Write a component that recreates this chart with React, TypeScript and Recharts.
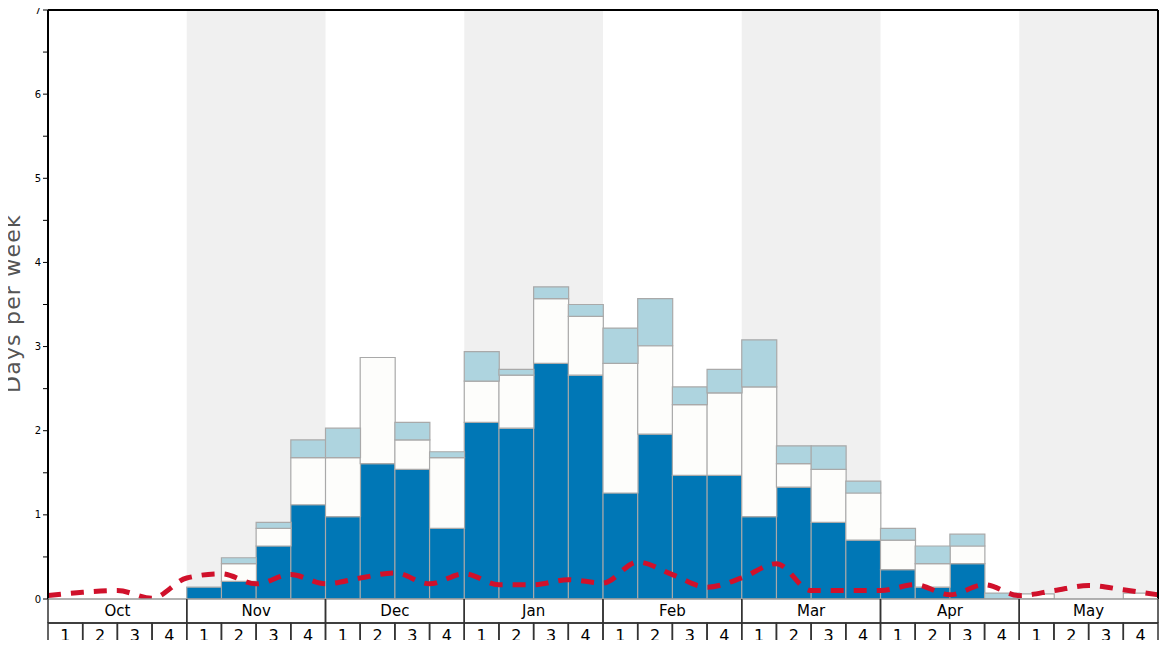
import React from 'react';
import { ComposedChart, Bar, Line, XAxis, YAxis, ReferenceArea } from 'recharts';

const months = ['Oct', 'Nov', 'Dec', 'Jan', 'Feb', 'Mar', 'Apr', 'May'];
const weekLabels = ['1', '2', '3', '4'];
const shadedMonths = ['Nov', 'Jan', 'Mar', 'May'];
const yTicks = [0, 0.5, 1, 1.5, 2, 2.5, 3, 3.5, 4, 4.5, 5, 5.5, 6, 6.5, 7];

const darkValues = [0, 0, 0, 0, 0.14, 0.21, 0.63, 1.12, 0.98, 1.61, 1.54, 0.84, 2.1, 2.03, 2.8, 2.66, 1.26, 1.96, 1.47, 1.47, 0.98, 1.33, 0.91, 0.7, 0.35, 0.14, 0.42, 0, 0, 0, 0, 0];
const whiteValues = [0, 0, 0, 0, 0, 0.21, 0.21, 0.56, 0.7, 1.26, 0.35, 0.84, 0.49, 0.63, 0.77, 0.7, 1.54, 1.05, 0.84, 0.98, 1.54, 0.28, 0.63, 0.56, 0.35, 0.28, 0.21, 0, 0.06, 0, 0, 0.07];
const lightValues = [0, 0, 0, 0, 0, 0.07, 0.07, 0.21, 0.35, 0, 0.21, 0.07, 0.35, 0.07, 0.14, 0.14, 0.42, 0.56, 0.21, 0.28, 0.56, 0.21, 0.28, 0.14, 0.14, 0.21, 0.14, 0.07, 0, 0, 0, 0];
const lineValues = [0.04, 0.08, 0.1, 0.01, 0.25, 0.3, 0.18, 0.29, 0.18, 0.25, 0.31, 0.18, 0.3, 0.17, 0.17, 0.23, 0.19, 0.44, 0.29, 0.14, 0.25, 0.42, 0.1, 0.1, 0.1, 0.17, 0.05, 0.17, 0.04, 0.1, 0.16, 0.11, 0.05];

const rows = months.flatMap((m, mi) =>
  weekLabels.map((w, wi) => {
    const i = mi * 4 + wi;
    return { key: `${m}-${w}`, week: w, dark: darkValues[i], white: whiteValues[i], light: lightValues[i] };
  })
);
const lineData = lineValues.map((v, k) => ({ k, v }));
const monthCenters = months.map((_, i) => i * 4 + 2);

const MONTH_ROW = 24;
const WEEK_ROW = 24;
const FONT = 'DejaVu Sans, sans-serif';
const GRID = '#333';

const MonthTick = (props: any) => {
  const { x, y, payload, width } = props;
  const w = (typeof width === 'number' && width > 0 ? width : 1110) / months.length;
  const idx = monthCenters.indexOf(payload.value);
  const label = idx >= 0 ? months[idx] : '';
  const l = x - w / 2;
  const r = x + w / 2;
  return (
    <g>
      <line x1={l} y1={y} x2={r} y2={y} stroke="#999" strokeWidth={1.5} />
      <line x1={l} y1={y} x2={l} y2={y + MONTH_ROW} stroke={GRID} strokeWidth={1.5} />
      <line x1={r} y1={y} x2={r} y2={y + MONTH_ROW} stroke={GRID} strokeWidth={1.5} />
      <line x1={l} y1={y + MONTH_ROW} x2={r} y2={y + MONTH_ROW} stroke={GRID} strokeWidth={1.5} />
      <text x={x} y={y + 17} textAnchor="middle" fontSize={15} fontFamily={FONT} fill="#000">{label}</text>
    </g>
  );
};

const WeekTick = (props: any) => {
  const { x, y, payload, width } = props;
  const half = payload && typeof payload.offset === 'number' && payload.offset > 0
    ? payload.offset
    : (typeof width === 'number' && width > 0 ? width : 1110) / rows.length / 2;
  const row = rows[payload.index] || rows.find(r => r.key === payload.value);
  return (
    <g>
      <rect x={x - half} y={y} width={half * 2} height={WEEK_ROW} fill="none" stroke={GRID} strokeWidth={1.5} />
      <text x={x} y={y + 18} textAnchor="middle" fontSize={16} fontFamily={FONT} fill="#000">{row ? row.week : ''}</text>
    </g>
  );
};

const YLabel = (props: any) => {
  const vb = props.viewBox || {};
  const cx = (vb.x ?? 0) + 20;
  const cy = (vb.y ?? 0) + (vb.height ?? 0) / 2 - 1;
  return (
    <text x={cx} y={cy} transform={`rotate(-90 ${cx} ${cy})`} textAnchor="middle" fontSize={22} letterSpacing={1.2} fontFamily={FONT} fill="#555">
      Days per week
    </text>
  );
};

export default function App() {
  return (
    <div style={{ margin: -8, width: 1168, height: 648, background: '#fff' }}>
      <ComposedChart
        width={1168}
        height={648}
        data={rows}
        margin={{ top: 9, right: 9, left: 0, bottom: 1 }}
        barCategoryGap={0}
        barGap={0}
      >
        {shadedMonths.map(m => {
          const i = months.indexOf(m);
          return (
            <ReferenceArea key={m} xAxisId="m" yAxisId="left" x1={i * 4} x2={i * 4 + 4} y1={0} y2={7} fill="#f0f0f0" fillOpacity={1} stroke="none" ifOverflow="hidden" />
          );
        })}
        <XAxis
          xAxisId="w"
          dataKey="key"
          type="category"
          interval={0}
          height={WEEK_ROW}
          tickSize={0}
          tickMargin={0}
          tickLine={false}
          axisLine={false}
          tick={<WeekTick />}
        />
        <XAxis
          xAxisId="m"
          dataKey="k"
          type="number"
          domain={[0, 32]}
          ticks={monthCenters}
          interval={0}
          height={MONTH_ROW}
          tickSize={0}
          tickMargin={0}
          tickLine={false}
          axisLine={false}
          tick={<MonthTick />}
          allowDataOverflow
        />
        <XAxis xAxisId="top" orientation="top" type="number" domain={[0, 32]} height={1} tick={false} tickLine={false} axisLine={{ stroke: '#000', strokeWidth: 2 }} allowDataOverflow />
        <YAxis
          yAxisId="left"
          domain={[0, 7]}
          ticks={yTicks}
          interval={0}
          width={48}
          tickSize={5}
          tickLine={{ stroke: '#000' }}
          axisLine={{ stroke: '#000', strokeWidth: 2 }}
          tickFormatter={(v: number) => (Number.isInteger(v) ? String(v) : '')}
          tick={{ fontSize: 10, fill: '#000', fontFamily: FONT }}
          label={<YLabel />}
          allowDataOverflow
        />
        <YAxis yAxisId="right" orientation="right" domain={[0, 7]} width={1} tick={false} tickLine={false} axisLine={{ stroke: '#000', strokeWidth: 2 }} />
        <Bar xAxisId="w" yAxisId="left" dataKey="dark" stackId="a" fill="#0077b6" stroke="#a9a9a9" strokeWidth={1.2} isAnimationActive={false} />
        <Bar xAxisId="w" yAxisId="left" dataKey="white" stackId="a" fill="#fdfdfb" stroke="#a9a9a9" strokeWidth={1.2} isAnimationActive={false} />
        <Bar xAxisId="w" yAxisId="left" dataKey="light" stackId="a" fill="#aed4df" stroke="#a9a9a9" strokeWidth={1.2} isAnimationActive={false} />
        <Line
          xAxisId="m"
          yAxisId="left"
          data={lineData}
          dataKey="v"
          type="monotone"
          stroke="#d0112b"
          strokeWidth={5}
          strokeDasharray="13 10"
          dot={false}
          activeDot={false}
          isAnimationActive={false}
        />
      </ComposedChart>
    </div>
  );
}
